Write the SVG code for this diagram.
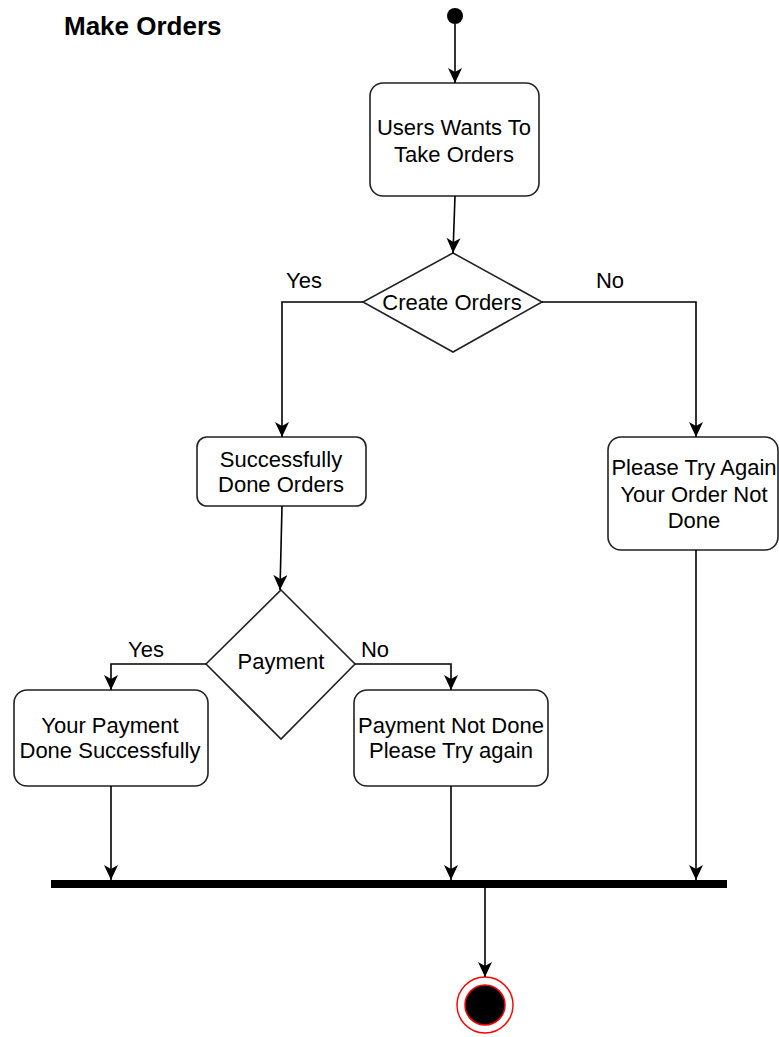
<svg xmlns="http://www.w3.org/2000/svg" width="779" height="1037" viewBox="0 0 779 1037">
<style>
text{font-family:"Liberation Sans",Arial,sans-serif;font-size:22px;fill:#000;text-anchor:middle}
.title{font-weight:bold;font-size:26px;text-anchor:start}
.box{fill:#fff;stroke:#222;stroke-width:1.6}
.edge{fill:none;stroke:#000;stroke-width:1.6}
</style>
<defs>
<marker id="arr" markerUnits="userSpaceOnUse" viewBox="0 0 15 14" markerWidth="15" markerHeight="14" refX="15" refY="7" orient="auto">
<path d="M0,0 L15,7 L0,14 L4,7 Z" fill="#000"/>
</marker>
</defs>
<text class="title" x="64" y="35">Make Orders</text>
<g id="start"><circle cx="455" cy="16" r="8" fill="#000"/></g>
<g id="n_users"><rect class="box" x="370" y="83" width="169" height="113" rx="13"/><text x="454" y="135">Users Wants To</text><text x="454" y="162">Take Orders</text></g>
<g id="d_create"><polygon class="box" points="453,253 542,302 453,352 363,302"/><text x="452" y="310">Create Orders</text></g>
<g id="n_success"><rect class="box" x="197" y="437" width="169" height="69" rx="10"/><text x="281" y="467">Successfully</text><text x="281" y="492">Done Orders</text></g>
<g id="n_tryagain"><rect class="box" x="608" y="437" width="170" height="113" rx="13"/><text x="694" y="475">Please Try Again</text><text x="694" y="502">Your Order Not</text><text x="694" y="528">Done</text></g>
<g id="d_payment"><polygon class="box" points="281,590 355,664 281,739 206,664"/><text x="281" y="669">Payment</text></g>
<g id="n_paydone"><rect class="box" x="14" y="690" width="194" height="96" rx="13"/><text x="110" y="733">Your Payment</text><text x="110" y="758">Done Successfully</text></g>
<g id="n_paynotdone"><rect class="box" x="354" y="690" width="194" height="96" rx="13"/><text x="451" y="733">Payment Not Done</text><text x="451" y="758">Please Try again</text></g>
<g id="bar"><rect x="51" y="880" width="676" height="8" fill="#000"/></g>
<g id="end"><circle cx="485" cy="1005" r="28" fill="#fff" stroke="#f00" stroke-width="1.5"/><circle cx="485" cy="1005" r="20" fill="#000" stroke="#f00" stroke-width="1.5"/></g>
<g id="connectors">
<path class="edge" d="M455,24 L455,83" marker-end="url(#arr)"/>
<path class="edge" d="M455,196 L453,253" marker-end="url(#arr)"/>
<path class="edge" d="M363,302 L282,302 L282,437" marker-end="url(#arr)"/>
<path class="edge" d="M542,302 L696,302 L696,437" marker-end="url(#arr)"/>
<path class="edge" d="M282,506 L280,590" marker-end="url(#arr)"/>
<path class="edge" d="M206,664 L111,664 L111,690" marker-end="url(#arr)"/>
<path class="edge" d="M355,664 L451,664 L451,690" marker-end="url(#arr)"/>
<path class="edge" d="M111,786 L111,880" marker-end="url(#arr)"/>
<path class="edge" d="M451,786 L451,880" marker-end="url(#arr)"/>
<path class="edge" d="M696,550 L696,880" marker-end="url(#arr)"/>
<path class="edge" d="M485,888 L485,977" marker-end="url(#arr)"/>
</g>
<g id="labels">
<text x="304" y="288">Yes</text>
<text x="610" y="288">No</text>
<text x="146" y="657">Yes</text>
<text x="375" y="657">No</text>
</g>
</svg>
